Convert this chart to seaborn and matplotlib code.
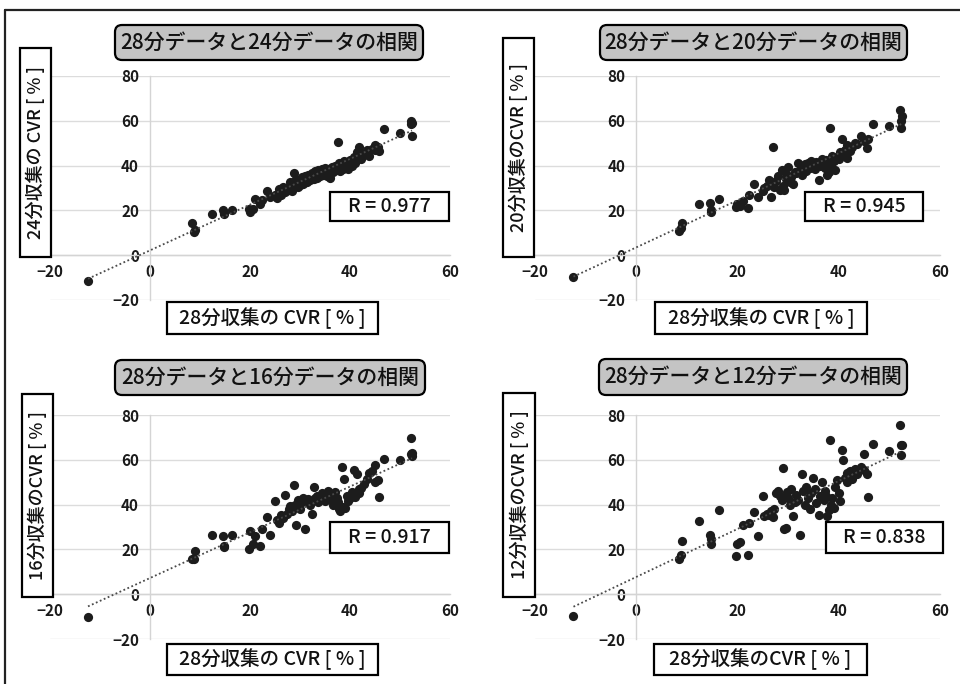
import pandas as pd
import seaborn as sns
import matplotlib.pyplot as plt
from matplotlib.patches import FancyBboxPatch
from matplotlib.lines import Line2D

# ------------ DATA ------------
# CVR of the 28-minute collection (shared x for all four panels)
X_28 = [-12.4, 8.4, 8.8, 9.0, 12.4, 14.5, 14.7, 14.8, 16.3, 19.7,
        19.9, 20.5, 21.0, 22.0, 22.3, 23.3, 24.0, 25.0, 25.3, 25.8,
        26.2, 26.6, 27.0, 27.3, 27.7, 28.0, 28.3, 28.7, 28.9, 29.2,
        29.5, 29.8, 30.0, 30.3, 30.6, 31.0, 31.3, 31.6, 32.0, 32.3,
        32.7, 33.0, 33.3, 33.6, 34.0, 34.3, 34.6, 35.0, 35.3, 35.6,
        36.0, 36.3, 36.6, 37.0, 37.3, 37.5, 37.7, 38.0, 38.3, 38.5,
        38.7, 39.0, 39.3, 39.6, 40.0, 40.3, 40.7, 40.9, 41.3, 41.7,
        41.7, 42.2, 42.7, 43.3, 43.7, 44.3, 45.0, 45.6, 45.8, 44.9,
        46.7, 50.0, 52.1, 52.2, 52.3, 52.4]

Y_24 = [-11.5, 14.3, 10.5, 11.2, 18.3, 20.0, 18.6, 19.0, 20.0, 20.5,
        19.2, 20.8, 25.0, 23.0, 24.5, 28.7, 26.0, 27.0, 25.5, 29.5,
        27.0, 30.5, 28.0, 30.0, 29.0, 32.5, 28.5, 36.6, 31.0, 34.0,
        30.5, 33.5, 31.5, 35.0, 32.0, 35.5, 32.5, 36.0, 33.5, 36.5,
        34.0, 37.5, 34.5, 38.0, 35.5, 38.5, 36.0, 39.0, 35.5, 38.5,
        34.5, 39.5, 37.0, 40.0, 38.0, 50.5, 41.0, 37.5, 40.5, 38.5,
        42.0, 39.5, 41.5, 38.5, 42.5, 40.0, 44.0, 41.0, 46.0, 48.4,
        45.5, 43.0, 45.0, 47.0, 44.5, 47.5, 49.0, 48.4, 46.5, 47.0,
        56.5, 54.7, 60.0, 58.5, 53.0, 59.0]

Y_20 = [-9.8, 11.0, 12.0, 14.3, 22.8, 23.2, 19.3, 20.0, 25.0, 21.5,
        23.0, 22.0, 24.0, 21.0, 27.0, 32.0, 26.0, 28.5, 30.0, 31.0,
        33.5, 26.0, 48.3, 30.5, 33.0, 35.5, 29.0, 38.0, 31.0, 29.0,
        34.0, 36.0, 39.5, 32.5, 35.0, 32.0, 37.0, 36.5, 41.0, 38.0,
        36.0, 39.0, 40.5, 37.5, 41.0, 39.0, 42.0, 40.0, 38.5, 41.5,
        33.5, 40.0, 43.0, 41.0, 39.0, 42.5, 36.0, 37.0, 56.6, 40.0,
        44.5, 42.0, 38.0, 44.0, 43.0, 46.0, 52.0, 45.0, 47.0, 43.5,
        49.0, 46.5, 48.5, 50.0, 49.5, 53.0, 51.5, 47.7, 52.0, 51.0,
        58.5, 57.6, 65.0, 60.0, 57.0, 62.0]

Y_16 = [-10.3, 15.5, 15.8, 19.2, 26.3, 26.0, 21.0, 21.5, 26.3, 20.0,
        28.0, 22.3, 26.0, 21.4, 29.0, 34.4, 26.3, 41.5, 33.0, 32.0,
        35.5, 34.0, 44.2, 36.0, 38.0, 39.5, 37.0, 48.7, 40.0, 30.8,
        42.0, 40.5, 38.0, 41.0, 43.0, 29.0, 41.5, 42.5, 40.0, 35.7,
        47.8, 43.0, 44.0, 41.0, 42.5, 45.0, 43.0, 41.5, 44.0, 46.0,
        42.5, 44.5, 40.0, 45.5, 43.0, 41.0, 38.0, 37.0, 57.0, 39.0,
        51.5, 38.5, 44.0, 41.5, 43.0, 45.5, 55.3, 43.5, 53.5, 47.0,
        45.0, 47.5, 49.0, 51.5, 54.0, 55.0, 57.6, 51.0, 43.3, 50.0,
        60.3, 60.0, 69.6, 62.5, 61.5, 63.0]

Y_12 = [-9.8, 15.7, 17.4, 23.7, 32.6, 26.3, 22.3, 24.5, 37.5, 16.9,
        22.3, 23.2, 30.8, 17.4, 32.0, 36.6, 25.9, 43.7, 35.0, 36.0,
        35.5, 37.0, 34.5, 38.0, 45.0, 46.0, 44.0, 42.0, 56.3, 29.0,
        29.5, 45.5, 43.0, 40.0, 47.0, 34.8, 41.0, 44.5, 42.0, 26.3,
        53.7, 46.0, 40.0, 48.0, 43.0, 38.0, 45.0, 52.0, 47.0, 40.5,
        35.2, 44.0, 50.0, 42.0, 46.0, 44.0, 35.0, 37.5, 68.8, 40.0,
        43.0, 38.5, 48.0, 51.0, 45.0, 41.5, 64.2, 59.8, 52.0, 50.0,
        54.0, 55.0, 51.5, 56.0, 53.5, 57.0, 55.5, 53.7, 43.3, 62.5,
        67.0, 63.8, 75.4, 66.5, 62.0, 66.5]

R_VALUES = [0.977, 0.945, 0.917, 0.838]
TITLES = ["28分データと24分データの相関", "28分データと20分データの相関",
          "28分データと16分データの相関", "28分データと12分データの相関"]
Y_LABELS = ["24分収集の CVR [ % ]", "20分収集のCVR [ % ]",
            "16分収集のCVR [ % ]", "12分収集のCVR [ % ]"]
X_LABELS = ["28分収集の CVR [ % ]", "28分収集の CVR [ % ]",
            "28分収集の CVR [ % ]", "28分収集のCVR [ % ]"]
X_TICKS = [-20, 0, 20, 40, 60]
Y_TICKS = [-20, 0, 20, 40, 60, 80]
# ------------------------------------------------------

W, H = 960, 684

# pixel layout (left, top, right, bottom) of each panel part
LAYOUT = [
    dict(ax=(50, 76, 450, 300), title=(115, 25, 423, 60), ylab=(20, 48, 51, 257),
         xlab=(167, 302, 378, 334), rbox=(330, 192, 449, 221)),
    dict(ax=(535, 76, 940, 300), title=(600, 25, 907, 60), ylab=(503, 38, 534, 257),
         xlab=(655, 302, 867, 334), rbox=(805, 192, 923, 221)),
    dict(ax=(50, 415, 450, 639), title=(115, 360, 425, 395), ylab=(22, 394, 53, 597),
         xlab=(167, 644, 378, 675), rbox=(330, 522, 449, 553)),
    dict(ax=(535, 415, 940, 639), title=(599, 359, 907, 395), ylab=(503, 393, 535, 597),
         xlab=(654, 644, 867, 675), rbox=(826, 522, 943, 553)),
]

sns.set_theme(style="white")
plt.rcParams["font.family"] = ["Noto Sans CJK JP", "DejaVu Sans"]

fig = plt.figure(figsize=(W / 100, H / 100), dpi=100)
fig.patch.set_facecolor("white")


def px_box(b, fc, rounded=False, lw=1.6):
    x0, y0, x1, y1 = b
    style = "round,pad=0,rounding_size=0.07" if rounded else "square,pad=0"
    fig.add_artist(FancyBboxPatch((x0 / 100, (H - y1) / 100), (x1 - x0) / 100, (y1 - y0) / 100,
                                  boxstyle=style, transform=fig.dpi_scale_trans,
                                  fc=fc, ec="black", lw=lw, zorder=5))


def px_text(b, s, size, rotation=0, weight="normal"):
    x0, y0, x1, y1 = b
    fig.text((x0 + x1) / 2 / W, 1 - (y0 + y1) / 2 / H, s, ha="center", va="center",
             fontsize=size, rotation=rotation, color="#111111", fontweight=weight, zorder=6)


series = [Y_24, Y_20, Y_16, Y_12]

for i, ys in enumerate(series):
    lay = LAYOUT[i]
    l, t, r, b = lay["ax"]
    ax = fig.add_axes([l / W, 1 - b / H, (r - l) / W, (b - t) / H])
    df = pd.DataFrame({"x28": X_28, "y": ys})

    sns.regplot(data=df, x="x28", y="y", ax=ax, ci=None, truncate=True,
                color="#1c1c1c",
                scatter_kws=dict(s=44, linewidths=0, alpha=1, zorder=3),
                line_kws=dict(color="#4a4a4a", lw=1.3, ls=(0, (1, 1.4)), zorder=4))

    ax.set_xlim(-20, 60)
    ax.set_ylim(-20, 80)
    ax.set_xticks(X_TICKS)
    ax.set_yticks(Y_TICKS)
    ax.set_xlabel("")
    ax.set_ylabel("")
    ax.patch.set_alpha(0)
    for s in ["top", "right"]:
        ax.spines[s].set_visible(False)
    ax.spines["left"].set_position(("data", 0))
    ax.spines["bottom"].set_position(("data", 0))
    ax.spines["left"].set_color("#d4d4d4")
    ax.spines["bottom"].set_color("#d4d4d4")
    ax.spines["left"].set_linewidth(1)
    ax.spines["bottom"].set_linewidth(1)
    ax.grid(axis="y", color="#dcdcdc", lw=1)
    ax.set_axisbelow(True)
    ax.tick_params(length=0, labelsize=11, colors="#1a1a1a")
    ax.tick_params(axis="y", pad=8)
    ax.tick_params(axis="x", pad=6)
    for lab in ax.get_xticklabels() + ax.get_yticklabels():
        lab.set_fontweight("bold")

    px_box(lay["title"], "#c4c4c4", rounded=True)
    px_text(lay["title"], TITLES[i], 15, weight="medium")
    px_box(lay["ylab"], "white")
    px_text(lay["ylab"], Y_LABELS[i], 13, rotation=90, weight="medium")
    px_box(lay["xlab"], "white")
    px_text(lay["xlab"], X_LABELS[i], 14, weight="medium")
    px_box(lay["rbox"], "white")
    px_text(lay["rbox"], f"R = {R_VALUES[i]:.3f}", 14, weight="medium")

# outer frame (top and left edge)
fig.add_artist(Line2D([5 / 100, W / 100], [(H - 10) / 100, (H - 10) / 100],
                      transform=fig.dpi_scale_trans, color="#222222", lw=1.6))
fig.add_artist(Line2D([5 / 100, 5 / 100], [(H - 10) / 100, 0],
                      transform=fig.dpi_scale_trans, color="#222222", lw=1.6))

fig.savefig("out.png", dpi=100)
